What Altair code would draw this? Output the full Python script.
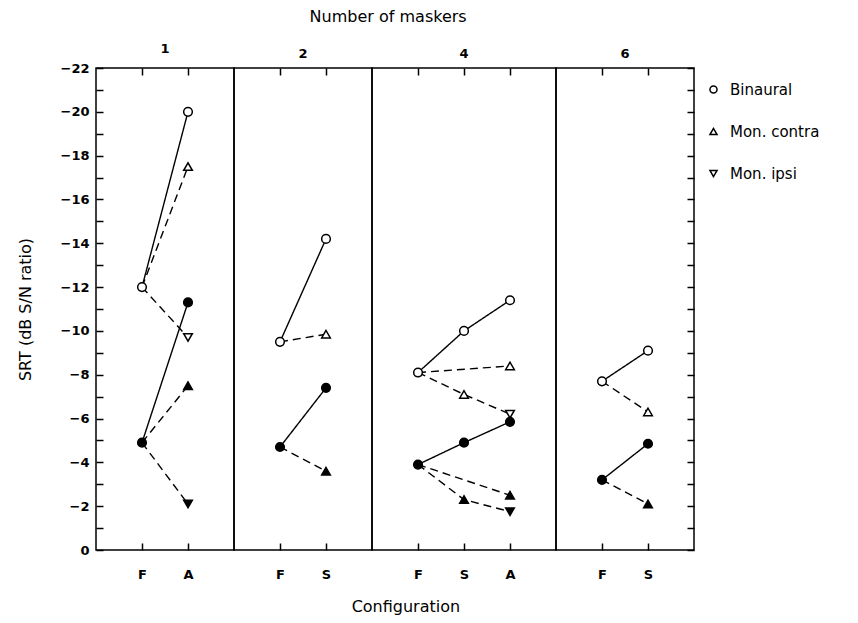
import altair as alt
import pandas as pd

# ---- data ----
PANELS = ["1", "2", "4", "6"]
CONFIGS = {"1": ["F", "A"], "2": ["F", "S"], "4": ["F", "S", "A"], "6": ["F", "S"]}

BIN_OPEN = {"1": [-12.0, -20.0], "2": [-9.5, -14.2], "4": [-8.1, -10.0, -11.4], "6": [-7.7, -9.1]}
BIN_FILLED = {"1": [-4.9, -11.3], "2": [-4.7, -7.4], "4": [-3.9, -4.9, -5.85], "6": [-3.2, -4.85]}

CONTRA_OPEN = {"1": {"A": -17.5}, "2": {"S": -9.85}, "4": {"S": -7.1, "A": -8.4}, "6": {"S": -6.3}}
CONTRA_FILLED = {"1": {"A": -7.5}, "2": {"S": -3.6}, "4": {"S": -2.3, "A": -2.5}, "6": {"S": -2.1}}

IPSI_OPEN = {"1": {"A": -9.7}, "4": {"A": -6.2}}
IPSI_FILLED = {"1": {"A": -2.1}, "4": {"A": -1.75}}

CONTRA_PATH = {"1": ["F", "A"], "2": ["F", "S"], "4": ["F", "A"], "6": ["F", "S"]}
IPSI_PATH = {"1": ["F", "A"], "4": ["F", "S", "A"]}

SERIES = ["Binaural", "Mon. contra", "Mon. ipsi"]
SHAPES = ["circle", "triangle-up", "triangle-down"]

# ---- build tables ----
pts, lns = [], []
for group, bin_, con, ips in [("open", BIN_OPEN, CONTRA_OPEN, IPSI_OPEN),
                              ("filled", BIN_FILLED, CONTRA_FILLED, IPSI_FILLED)]:
    for p in PANELS:
        cfgs = CONFIGS[p]
        for i, c in enumerate(cfgs):
            pts.append(dict(panel=p, config=c, value=bin_[p][i], series="Binaural", group=group))
            lns.append(dict(panel=p, config=c, value=bin_[p][i], lid="bin-" + group, style="solid", ord=i))
        for c, v in con[p].items():
            pts.append(dict(panel=p, config=c, value=v, series="Mon. contra", group=group))
        for c, v in ips.get(p, {}).items():
            pts.append(dict(panel=p, config=c, value=v, series="Mon. ipsi", group=group))
        fval = bin_[p][0]
        for k, c in enumerate(CONTRA_PATH[p]):
            v = fval if c == "F" else con[p][c]
            lns.append(dict(panel=p, config=c, value=v, lid="con-" + group, style="dashed", ord=k))
        for k, c in enumerate(IPSI_PATH.get(p, [])):
            v = fval if c == "F" else ips[p].get(c, con[p].get(c))
            lns.append(dict(panel=p, config=c, value=v, lid="ips-" + group, style="dashed", ord=k))

pts_df = pd.DataFrame(pts)
lns_df = pd.DataFrame(lns)

STEP = 46
HEIGHT = 482
FONT = "DejaVu Sans"


def panel(p, first, last):
    n = len(CONFIGS[p])
    xscale = alt.Scale(type="point", domain=CONFIGS[p], padding=1)
    yscale = alt.Scale(domain=[-22, 0], reverse=True, nice=False, zero=False)

    bottom_axis = alt.Axis(orient="bottom", title=None, offset=-7, tickSize=7, domain=False,
                           grid=False, labelPadding=18, labelFontSize=13, labelFontWeight="bold",
                           labelAngle=0, tickColor="black", tickWidth=1.5, labelColor="black")
    top_axis = alt.Axis(orient="top", title=None, offset=-7, tickSize=7, domain=False,
                        grid=False, labels=False, tickColor="black", tickWidth=1.5)
    left_axis = alt.Axis(orient="left", title="SRT (dB S/N ratio)", offset=-7, tickSize=7,
                         domain=False, grid=False, values=list(range(-22, 1)),
                         labelExpr="datum.value % 2 == 0 ? datum.label : ''",
                         labelPadding=7, labelFontSize=13, labelFontWeight="bold",
                         tickColor="black", tickWidth=1.5, labelColor="black",
                         titleFontSize=16, titleFontWeight="normal", titlePadding=27,
                         titleColor="black")
    right_axis = alt.Axis(orient="right", title=None, offset=-7, tickSize=7, domain=False,
                          grid=False, labels=False, values=list(range(-22, 1)),
                          tickColor="black", tickWidth=1.5)

    line_layer = alt.Chart(lns_df[lns_df.panel == p]).mark_line(
        color="black", strokeWidth=1.4
    ).encode(
        x=alt.X("config:N", scale=xscale, axis=bottom_axis),
        y=alt.Y("value:Q", scale=yscale, axis=left_axis if first else None),
        detail="lid:N",
        order="ord:Q",
        strokeDash=alt.StrokeDash("style:N", scale=alt.Scale(domain=["solid", "dashed"],
                                                             range=[[1, 0], [8, 5]]), legend=None),
    )
    point_layer = alt.Chart(pts_df[pts_df.panel == p]).mark_point(
        filled=True, size=75, stroke="black", strokeWidth=1.5, opacity=1
    ).encode(
        x=alt.X("config:N", scale=xscale, axis=top_axis),
        y=alt.Y("value:Q", scale=yscale, axis=right_axis if last else None),
        shape=alt.Shape("series:N", scale=alt.Scale(domain=SERIES, range=SHAPES),
                        legend=alt.Legend(title=None, orient="right", symbolFillColor="white",
                                          symbolStrokeColor="black", symbolStrokeWidth=1.5,
                                          symbolSize=50, labelFontSize=15, labelColor="black",
                                          rowPadding=26, offset=-4, padding=14, labelOffset=9)),
        fill=alt.Fill("group:N", scale=alt.Scale(domain=["open", "filled"], range=["white", "black"]),
                      legend=None),
    )
    return alt.layer(line_layer, point_layer).resolve_axis(
        x="independent", y="independent"
    ).properties(
        width=STEP * (n + 1), height=HEIGHT,
        title=alt.TitleParams(p, fontSize=13, fontWeight="bold", offset=6, color="black"),
    )


charts = [panel(p, i == 0, i == len(PANELS) - 1) for i, p in enumerate(PANELS)]
inner = alt.hconcat(*charts, spacing=0, bounds="flush").resolve_scale(
    x="independent", y="independent"
).properties(
    title=alt.TitleParams("Configuration", orient="bottom", anchor="middle", fontSize=16,
                          fontWeight="normal", offset=17, color="black", dx=50)
)
chart = alt.vconcat(inner).properties(
    title=alt.TitleParams("Number of maskers", anchor="middle", fontSize=16, fontWeight="normal",
                          offset=17, color="black", dx=-37)
).configure(
    font=FONT, padding={"left": 16, "top": 9, "right": 5, "bottom": 5}
).configure_view(
    stroke="black", strokeWidth=1.5
)

chart.save("out.html", embed_options={"renderer": "svg", "actions": False})
